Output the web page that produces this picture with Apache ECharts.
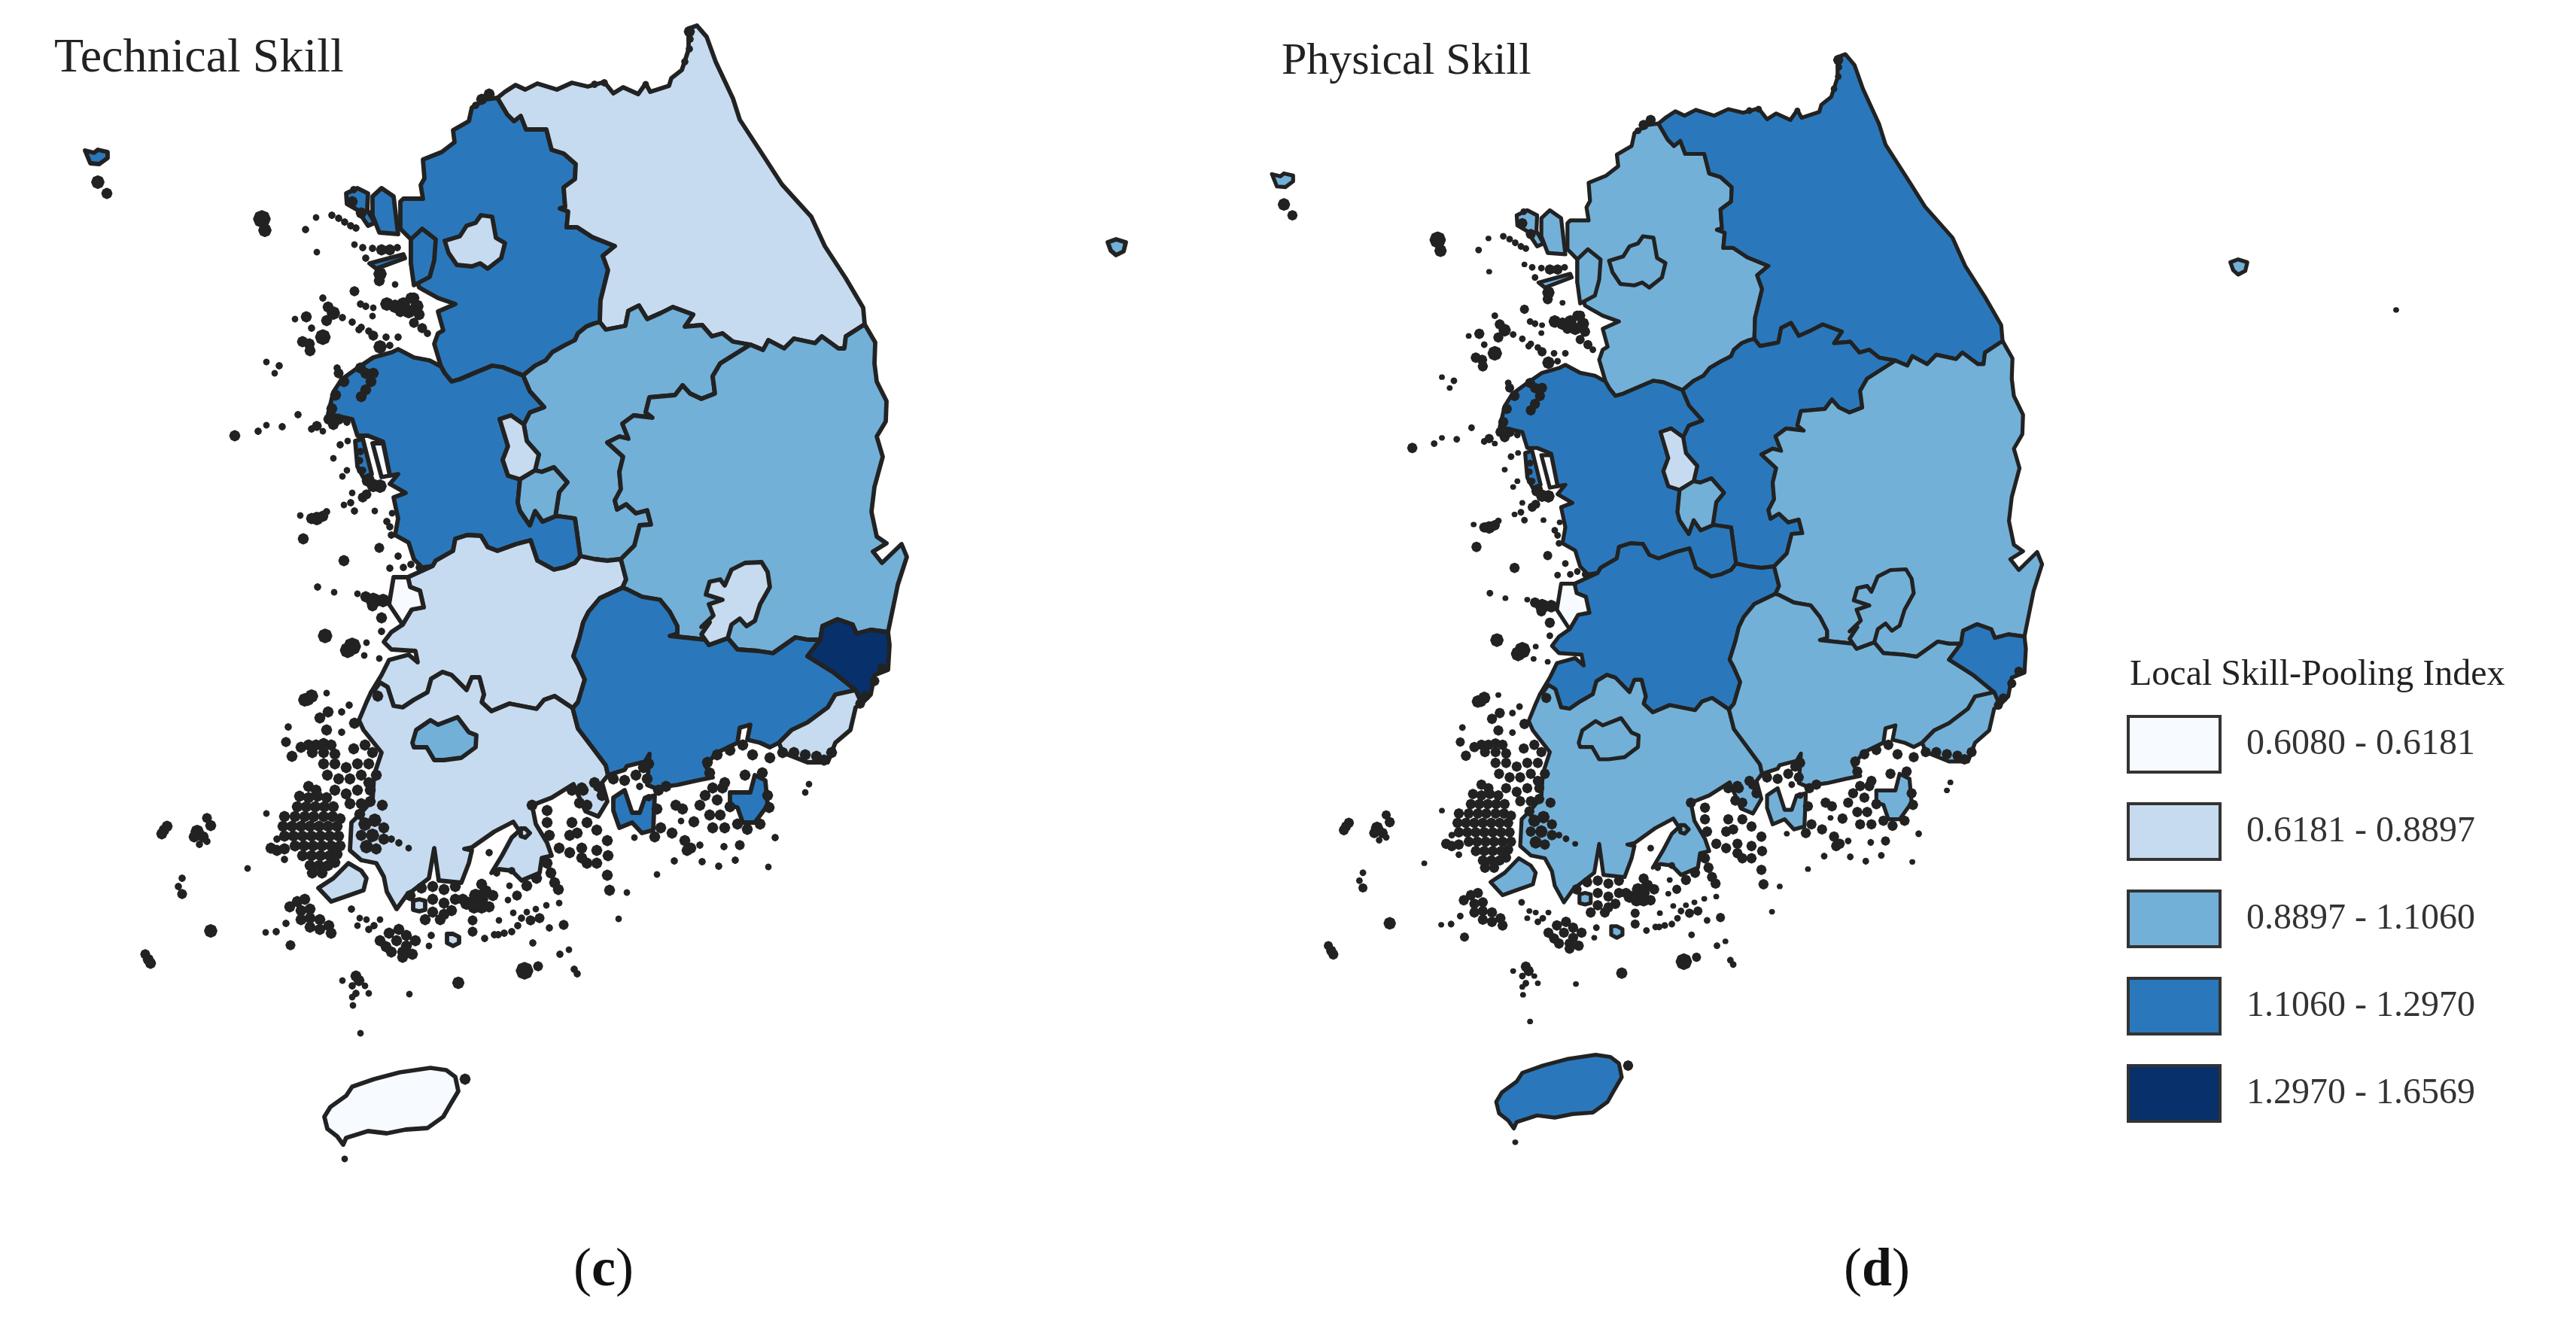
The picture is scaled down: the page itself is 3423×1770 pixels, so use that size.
<!DOCTYPE html>
<html><head><meta charset="utf-8">
<style>html,body{margin:0;padding:0;background:#fff}#c{width:3423px;height:1770px}</style>
<script src="https://cdn.jsdelivr.net/npm/echarts@6/dist/echarts.min.js"></script>
</head><body><div id="c"></div>
<script>
// ---------- values ----------
const regionNames = ['Gyeonggi','Gangwon','Chungbuk','Chungnam','Jeonbuk','Jeonnam','Gyeongbuk','Gyeongnam','Seoul','Incheon','Sejong','Daejeon','Daegu','Gwangju','Ulsan','Busan','Jeju','Saemangeum','Cheonsu'];
const technicalValues = [1.21,0.78,1.02,1.20,0.80,0.75,0.98,1.18,0.85,1.15,0.70,1.00,0.82,1.05,1.50,0.86,0.61,0.61,0.61];
const physicalValues  = [0.98,1.20,1.22,1.18,1.15,1.00,1.05,1.02,0.92,0.95,0.80,0.97,0.93,0.95,1.25,0.96,1.13,0.61,0.61];
const classBreaks = [0.6080,0.6181,0.8897,1.1060,1.2970,1.6569];
const classLabels = ['0.6080 - 0.6181','0.6181 - 0.8897','0.8897 - 1.1060','1.1060 - 1.2970','1.2970 - 1.6569'];
const classColors = ['#f7fbff','#c6dbef','#72b0d8','#2a78bb','#08306b'];

// ---------- outline data (traced map units, converted to lon/lat below) ----------
const coastNorthEast = [[661,130],[671,122],[685,113],[698,119],[714,111],[740,119],[760,110],[781,115],[803,109],[815,124],[828,116],[848,125],[858,111],[864,122],[889,114],[892,104],[906,93],[915,66],[915,38],[926,34],[939,49],[951,82],[974,131],[983,159],[1017,211],[1039,245],[1078,288],[1096,327],[1124,370],[1147,409],[1149,431]];
const arcGwGg = [[661,130],[674,152],[683,161],[692,154],[699,172],[726,172],[733,199],[749,204],[765,218],[764,238],[749,249],[751,275],[744,277],[755,281],[753,302],[767,302],[787,315],[817,327],[801,340],[808,359],[798,399],[797,428]];
const arcGwCb = [[797,428],[805,438],[831,433],[835,413],[849,406],[860,424],[878,416],[894,408],[921,418],[910,434],[933,432],[946,447],[960,443],[974,454],[997,458]];
const arcGwGb = [[997,458],[1014,465],[1021,452],[1042,463],[1055,450],[1083,456],[1092,447],[1114,463],[1122,463],[1124,447],[1149,431]];
const arcGgCb = [[797,428],[789,430],[779,434],[768,443],[764,452],[750,459],[734,468],[725,479],[711,486],[695,499]];
const arcGgCn = [[695,499],[668,488],[654,486],[632,495],[611,504],[600,507],[591,496],[586,487]];
const ggWest = [[586,487],[577,457],[582,443],[589,439],[582,414],[605,404],[582,396],[564,386],[557,382],[546,350],[546,318],[532,304],[532,268],[536,264],[562,264],[559,246],[564,237],[562,212],[587,202],[604,189],[602,173],[623,161],[627,143],[645,132],[661,130]];
const cnCoast = [[586,487],[571,479],[550,475],[529,464],[521,468],[496,475],[475,489],[454,504],[443,521],[436,550],[468,557],[475,579],[489,579],[509,587],[518,632],[529,630],[518,643],[539,655],[523,661],[529,689],[525,711],[543,721],[550,743],[561,754],[575,752]];
const arcCnJb = [[575,752],[579,745],[602,732],[605,716],[621,711],[639,712],[648,727],[661,732],[686,723],[705,718],[714,745],[736,757],[750,754],[764,748],[771,739]];
const cnEastSejongDaejeon = [[695,499],[704,520],[723,541],[704,548],[696,564],[679,552],[664,557],[675,593],[668,611],[675,632],[691,637],[688,668],[691,679],[704,698],[711,679],[721,693],[738,686],[743,686],[764,689],[771,739]];
const cbWest = [[771,739],[764,689],[743,686],[738,686],[743,654],[754,641],[736,621],[720,627],[711,625],[716,604],[700,586],[696,564],[704,548],[723,541],[704,520],[695,499]];
const arcCbGb = [[997,458],[957,483],[947,500],[950,523],[932,530],[917,523],[907,512],[897,525],[863,528],[858,548],[867,555],[842,552],[827,563],[835,583],[823,580],[807,588],[828,607],[823,627],[825,650],[817,665],[820,677],[832,670],[845,682],[860,678],[865,697],[850,698],[843,725],[825,743]];
const arcCbJb = [[771,739],[790,743],[807,745],[825,743]];
const arcGbJb = [[825,743],[832,770],[827,781]];
const arcJbGn = [[827,781],[797,795],[782,813],[775,827],[770,847],[762,872],[768,883],[777,903],[768,933],[761,941]];
const arcJbJn = [[761,941],[737,925],[723,930],[713,942],[677,935],[653,945],[640,933],[643,923],[637,900],[627,900],[620,917],[600,897],[588,893],[573,902],[568,920],[550,930],[535,940],[523,938],[515,913],[505,907],[497,918],[493,920]];
const jbCoast = [[493,920],[507,897],[517,877],[543,870],[555,880],[552,865],[520,863],[510,853],[520,840],[535,830],[547,810],[563,807],[558,785],[545,780],[542,767],[575,752]];
const gbCoast = [[1149,431],[1163,455],[1162,483],[1165,507],[1178,533],[1177,560],[1165,580],[1173,607],[1162,647],[1158,680],[1165,713],[1178,722],[1160,733],[1172,748],[1198,723],[1205,740],[1193,777],[1180,840]];
const arcGbUs = [[1180,840],[1157,837],[1138,842],[1133,830],[1113,823],[1093,832],[1090,850]];
const arcGbGn = [[1090,850],[1073,850],[1057,847],[1027,868],[1007,865],[980,863],[967,848],[942,857],[937,850],[890,845],[900,842],[900,832],[890,813],[877,797],[853,793],[833,783],[827,781]];
const gnSouth = [[1090,850],[1073,872],[1107,893],[1137,917],[1110,923],[1100,940],[1073,960],[1052,970],[1035,987],[1023,993],[1010,987],[993,983],[997,963],[983,967],[980,987],[953,1000],[937,1017],[947,1033],[927,1037],[900,1043],[870,1047],[860,1043],[863,1002],[857,1012],[833,1018],[830,1023],[808,1030],[805,1017],[787,993],[768,968],[761,941]];
const jnSouth = [[761,941],[768,968],[787,993],[805,1017],[808,1030],[800,1040],[807,1065],[795,1085],[778,1078],[762,1042],[733,1060],[707,1070],[712,1095],[727,1120],[733,1137],[720,1140],[717,1160],[693,1170],[680,1157],[663,1155],[653,1160],[667,1137],[680,1113],[690,1104],[682,1092],[657,1105],[627,1126],[617,1128],[627,1130],[623,1147],[613,1173],[583,1170],[577,1127],[570,1167],[557,1177],[540,1190],[527,1208],[514,1185],[510,1165],[500,1147],[480,1143],[465,1130],[467,1093],[480,1080],[495,1063],[497,1030],[507,1000],[483,970],[477,957],[487,933],[493,920]];
const seoulRing = [[591,320],[611,314],[620,300],[632,296],[639,286],[654,288],[659,316],[671,323],[666,343],[648,357],[638,350],[627,354],[607,352],[596,336]];
const sejongRing = [[696,564],[700,586],[716,604],[711,625],[691,637],[675,632],[668,611],[675,593],[664,557],[679,552]];
const daejeonRing = [[711,625],[720,627],[736,621],[754,641],[743,654],[738,686],[721,693],[711,679],[704,698],[691,679],[688,668],[691,637]];
const daeguRing = [[932,843],[943,827],[932,833],[948,818],[942,803],[960,797],[938,790],[943,773],[957,770],[963,778],[972,757],[990,748],[1012,747],[1020,760],[1023,780],[1010,803],[1003,825],[992,832],[983,822],[972,830],[967,848],[942,857],[937,850]];
const gwangjuRing = [[548,987],[553,970],[572,957],[582,963],[608,953],[623,973],[633,977],[632,993],[613,1007],[590,1010],[577,1010],[567,993],[550,993]];
const ulsanRing = [[1090,850],[1093,832],[1113,823],[1133,830],[1138,842],[1157,837],[1180,840],[1182,857],[1180,890],[1162,897],[1157,923],[1145,935],[1137,917],[1107,893],[1073,872]];
const busanRing = [[1137,917],[1145,935],[1137,940],[1130,970],[1110,987],[1100,1013],[1073,1013],[1040,1000],[1035,987],[1052,970],[1073,960],[1100,940],[1110,923]];
const jejuRing = [[431,1484],[439,1471],[460,1456],[468,1444],[497,1434],[531,1425],[572,1419],[593,1422],[605,1431],[609,1450],[597,1470],[589,1484],[568,1499],[539,1501],[514,1506],[489,1503],[460,1512],[456,1521],[448,1510],[435,1500]];
const saemangeumRing = [[523,767],[542,767],[545,780],[558,785],[563,807],[547,810],[535,830],[517,803]];
const cheonsuRing = [[495,589],[509,589],[518,632],[507,634]];
const ganghwaRing = [[495,261],[507,250],[523,261],[529,311],[504,309],[495,286]];
const gyodongRing = [[460,257],[475,250],[489,257],[488,279],[498,296],[489,300],[475,279],[461,271]];
const yeongjongRing = [[491,350],[536,338],[538,343],[500,357]];
const incheonMainRing = [[546,318],[561,304],[579,318],[577,346],[571,368],[550,379],[546,350]];
const baengnyeongRing = [[113,200],[125,203],[130,199],[143,202],[143,210],[132,218],[120,217]];
const anmyeonRing = [[472,586],[482,583],[494,630],[486,640],[475,620]];
const geojeRing = [[970,1053],[997,1053],[1003,1030],[1017,1037],[1020,1070],[1003,1093],[987,1093],[980,1073],[970,1070]];
const namhaeRing = [[815,1060],[830,1050],[840,1080],[850,1080],[857,1060],[870,1057],[868,1103],[853,1107],[840,1093],[823,1100],[815,1077]];
const jindoRing = [[480,1157],[487,1167],[483,1183],[463,1190],[440,1198],[423,1180],[443,1167],[463,1147]];
const ulleungRing = [[1472,322],[1483,318],[1496,322],[1493,334],[1483,339],[1476,333]];
const wandoRing = [[549,1197],[557,1195],[565,1197],[565,1209],[557,1211],[549,1209]];
const soanRing = [[594,1241],[602,1241],[610,1245],[610,1253],[602,1257],[594,1253]];
const sorokRing = [[692,1101],[698,1101],[704,1107],[698,1113],[692,1111]];

// islets drawn as solid blobs: [x, y, radius]
const northIslets = [[916,42,3],[917,52,2],[916,65,2],[910,82,2],[803,110,2],[790,112,2],[858,112,1.5]];
const incheonIslets = [[130,242,4],[142,257,3],[348,291,5.9],[352,306,4],[420,289,1.5],[406,305,2],[421,335,1.5],[525,378,1.5],[471,387,2.5],[441,286,2],[450,290,2],[458,295,2],[466,300,2],[473,303,2],[471,325,1.5],[482,329,2],[495,330,2],[507,332,3],[518,332,3],[528,329,2],[486,343,2],[505,364,4],[504,373,3],[429,396,2],[436,408,3],[443,416,4],[455,422,2],[468,428,2],[480,435,2],[490,440,2],[477,438,2],[407,421,3],[392,424,1.5],[434,426,3],[414,436,2],[429,448,5],[402,454,3],[411,457,3],[412,466,3],[479,404,2],[486,407,2],[496,409,1.5],[495,420,1.5],[514,404,4],[525,407,4],[536,404,4],[546,396,3],[554,407,4],[543,414,4],[532,414,3],[557,418,3],[550,396,3],[561,436,2.5],[550,429,2.5],[568,443,2],[496,446,2.5],[513,448,2],[529,448,2],[505,461,4],[518,459,2],[354,481,1.5],[371,486,2],[365,496,1.5],[448,489,2],[450,496,2.5],[468,268,3],[480,283,3],[470,252,2],[650,125,3],[640,132,3],[632,140,2]];
const chungnamIslets = [[479,489,3],[486,496,3],[496,496,3],[493,507,3],[486,518,3],[480,527,3],[457,507,3],[446,525,3],[441,543,3],[437,557,3],[450,557,3],[461,561,2],[443,564,3],[421,566,2.5],[414,570,2],[429,573,1.5],[396,551,2],[375,567,2],[354,565,1.5],[343,573,2],[312,579,3],[462,586,1.5],[452,591,2],[443,609,1.5],[461,625,1.5],[455,633,1.5],[479,625,2],[488,639,3],[496,645,4],[505,646,4],[482,625,2],[487,657,2.5],[482,661,2.5],[468,655,1.5],[466,668,2],[471,679,2],[457,671,1.5],[399,685,1.5],[421,689,4],[414,689,3],[429,686,3],[434,680,2],[403,716,3],[498,679,1.5],[514,693,2],[518,700,2],[521,682,1.5],[520,711,2],[479,600,2],[478,612,2],[490,636,3]];
const jeonbukIslets = [[504,728,2.5],[529,739,2],[457,745,3],[518,755,2],[546,750,2],[536,754,2],[557,754,2],[422,780,2],[444,787,1.5],[475,789,1.5],[486,793,3],[496,798,5],[509,798,4],[495,805,3],[507,821,3],[507,839,2],[432,845,4.5],[468,859,5.9],[462,864,5],[487,854,1.5],[484,871,1.5],[504,875,1.5]];
const jeonnamIslets = [[409,929,4],[414,925,4],[405,930,4],[434,921,1.5],[436,946,3],[425,954,3],[454,946,2],[464,937,2],[383,966,2],[434,970,3],[454,973,2],[380,986,2.5],[388,1005,3],[502,925,3],[471,961,3],
[400,993,3],[410,990,3],[420,990,3],[430,988,3],[440,990,3],[415,1000,3],[430,1000,3],[445,1002,3],[470,995,3],[485,990,3],[495,1000,3],[430,1015,3],[445,1015,3],[460,1020,3],[475,1015,3],[490,1015,3],[435,1030,3],[450,1035,3],[465,1035,3],[480,1030,3],[490,1040,3],[445,1050,3],[460,1055,3],[475,1050,3],[492,1050,3],[465,1068,3],[480,1068,3],[492,1065,3],[478,1082,3],
[410,1045,3],[420,1050,3],[398,1058,3],[410,1060,3],[422,1058,3],[434,1060,3],[395,1072,3],[407,1072,3],[419,1072,3],[431,1072,3],[443,1072,3],[378,1085,3],[392,1085,3],[405,1085,3],[417,1085,3],[430,1085,3],[442,1085,3],[452,1088,3],[376,1098,3],[388,1098,3],[400,1098,3],[412,1098,3],[424,1098,3],[436,1098,3],[448,1098,3],[378,1111,3],[390,1111,3],[402,1111,3],[414,1111,3],[426,1111,3],[438,1111,3],[450,1111,3],[392,1124,3],[404,1124,3],[416,1124,3],[428,1124,3],[440,1124,3],[452,1124,3],[402,1137,3],[414,1137,3],[426,1137,3],[438,1137,3],[448,1135,3],[412,1150,3],[424,1150,3],[436,1150,3],[445,1146,3],[415,1160,3],[428,1160,3],
[385,1205,3],[395,1198,3],[405,1195,3],[400,1210,3],[412,1208,3],[400,1222,3],[412,1220,3],[425,1222,3],[412,1232,3],[425,1235,3],[437,1230,3],[440,1240,3],[380,1227,2],[367,1238,2],[353,1239,1.5],[386,1256,2.5],[360,1127,3],[368,1130,3],[378,1128,3],[368,1115,2],[378,1142,2],[354,1081,1.5],[329,1154,1.5],
[222,1098,3],[218,1103,3],[215,1108,3],[275,1087,2.5],[280,1097,3],[262,1105,4],[270,1112,3],[258,1112,3],[275,1118,2],[265,1122,2],[242,1167,2],[237,1178,2],[242,1188,2.5],[280,1237,4],[193,1268,2.5],[197,1275,3],[200,1280,3],
[467,1208,2],[478,1220,1.5],[487,1222,1.5],[475,1230,1.5],[505,1222,1.5],[497,1230,2],[490,1235,2],[505,1250,3],[517,1240,3],[530,1235,3],[540,1243,3],[513,1258,3],[527,1250,3],[540,1257,3],[552,1250,3],[520,1265,3],[535,1265,3],[548,1268,3],[535,1272,3],[573,1243,2],[570,1257,1.5],[628,1238,2.5],[628,1223,2.5],[644,1247,2],[657,1242,2],
[473,1297,3],[468,1310,2],[477,1303,3],[485,1310,1.5],[473,1320,2],[490,1320,1.5],[455,1303,1.5],[468,1325,1.5],[469,1336,1.5],[479,1373,1.5],[544,1321,1.5],
[545,1190,3],[560,1180,3],[575,1178,3],[590,1182,3],[605,1178,3],[575,1195,3],[590,1200,3],[605,1195,3],[575,1212,3],[590,1215,3],[600,1210,3],[615,1195,3],[585,1222,3],[565,1222,3],
[620,1200,4],[632,1190,4],[640,1175,3],[645,1185,4],[630,1205,4],[640,1205,4],[650,1205,3],[640,1195,4],[655,1190,3],
[500,1030,3],[508,1070,3],[485,1095,4],[498,1090,4],[510,1100,3],[480,1110,3],[495,1110,4],[510,1115,3],[487,1125,4],[500,1128,3],[520,1115,2],[530,1120,2],[543,1127,1.5],
[662,1242,2],[670,1240,2],[680,1238,2],[688,1230,2],[693,1220,2],[663,1223,1.5],[682,1213,1.5],[700,1212,1.5],[712,1208,1.5],[726,1203,1.5],[743,1200,1.5],[705,1223,2.5],[717,1220,2.5],[730,1233,2],[749,1229,2.5],[708,1253,2],[744,1268,2],[756,1262,1.5],[763,1288,2],[767,1294,2],[697,1290,5.9],[715,1284,2.5],[609,1306,3.5],[675,1196,1.5],
[700,1177,3],[713,1167,3],[727,1147,3],[732,1160,3],[737,1173,3],[742,1182,3],[687,1190,2.5],[677,1177,1.5],[660,1160,2],[680,1157,2],[650,1133,2],
[707,1070,3],[727,1077,3],[727,1093,3],[730,1110,3],[743,1127,3],[757,1133,3],[773,1140,3],[793,1147,3],[807,1163,3],[810,1183,3],[760,1093,3],[757,1110,3],[767,1107,3],[780,1093,3],[793,1103,3],[807,1117,3],[808,1137,3],[773,1127,3],[793,1130,3],[780,1147,3],[760,1050,2.5],[770,1067,3],[780,1070,3],[790,1040,3],[800,1057,3],[773,1047,3],[833,1186,1.5],[822,1221,1.5]];
const gyeongnamIslets = [[873,1162,1.5],[843,1113,1.5],[896,1144,2],[933,1145,2],[955,1151,2],[977,1143,2],[1021,1152,1.5],[962,1125,2],[983,1123,2.5],[1030,1113,2],[922,1092,3],[905,1091,1.5],[898,1070,3],[907,1075,3],[893,1107,3],[910,1117,3],[918,1127,3],[930,1123,2],[913,1130,3],[1075,1042,1.5],[1070,1053,1.5],
[940,1013,3],[953,1003,3],[970,997,3],[987,990,3],[1000,1003,3],[1023,1007,3],[930,1070,3],[937,1057,3],[947,1047,3],[960,1047,3],[953,1063,3],[943,1083,3],[957,1083,3],[970,1072,3],[947,1100,3],[963,1100,3],[980,1095,3],[993,1102,3],[1010,1095,3],[1022,1073,3],[1020,1057,3],[1013,1027,3],[990,1030,3],[963,1040,3],[943,1027,3],
[1040,1000,3],[1055,1000,3],[1070,1003,3],[1085,1005,3],[1095,1010,3],[1105,1000,3],
[775,1050,3],[760,1050,3],[795,1045,3],[815,1035,3],[830,1037,3],[845,1030,3],[855,1020,3],[860,1035,3],[875,1050,3],[885,1045,3],[862,1060,2],[873,1075,3],[878,1100,3],[870,1112,3],[850,1045,2],[862,1015,3],
[1172,888,2.5],[1162,905,2.5],[1150,925,2.5],[1143,935,2.5]];
const jejuIslets = [[618,1434,3],[458,1540,1.5]];
const dokdoIslets = [[1707,388,1.5]];

// ---------- layout ----------
const TRACE_BOX = {x0:100,y0:0,x1:1500,y1:1600};
const PANELS = [
  {map:'koreaLeft', isletMap:'isletsLeft', left:100, top:0, width:1400, height:1600, lineWidth:5.8, values:technicalValues},
  {map:'koreaRight', isletMap:'isletsRight', left:1678, top:39.4, width:1312, height:1536, lineWidth:5.2, values:physicalValues}
];
const LEGEND = {left:2828, top:952, w:122, h:74, gap:42};
const FONT = '"Liberation Serif","Times New Roman",serif';
const LINE = '#222';

// ---------- helpers ----------
const toLonLat = p => [124.7+(p[0]-112)/222, 38.61-(p[1]-34)/276];
const rev = a => a.slice().reverse();
const closeRing = r => { const o = r.map(toLonLat); o.push(o[0]); return o; };
const islet = ([x,y,r]) => {
  const R = r<=2 ? r : r*1.5, out=[];
  for(let i=0;i<8;i++){const t=i*Math.PI/4; out.push([x+R*Math.cos(t),y+R*Math.sin(t)]);}
  return out;
};
const join = (...arcs) => { const out=[]; arcs.forEach(a=>a.forEach(p=>{const l=out[out.length-1]; if(!l||l[0]!==p[0]||l[1]!==p[1]) out.push(p);})); return out; };
const feature = (name, rings) => ({type:'Feature',properties:{name},geometry:{type:'MultiPolygon',coordinates:rings.map(r=>[closeRing(r)])}});

const gyeongbukRing = join(gbCoast,arcGbUs,arcGbGn,rev(arcGbJb),rev(arcCbGb),arcGwGb);
const regionGeo = {type:'FeatureCollection',features:[
  feature('Gyeonggi',[join(arcGwGg,arcGgCb,arcGgCn,ggWest)]),
  feature('Gangwon',[join(coastNorthEast,rev(arcGwGb),rev(arcGwCb),rev(arcGwGg))]),
  feature('Chungbuk',[join(arcGwCb,arcCbGb,rev(arcCbJb),cbWest,rev(arcGgCb))]),
  feature('Chungnam',[join(cnEastSejongDaejeon,rev(arcCnJb),rev(cnCoast),rev(arcGgCn)),anmyeonRing]),
  feature('Jeonbuk',[join(arcCnJb,arcCbJb,arcGbJb,arcJbGn,arcJbJn,jbCoast)]),
  feature('Jeonnam',[join(rev(arcJbJn),jnSouth),jindoRing,wandoRing,soanRing,sorokRing]),
  feature('Gyeongbuk',[gyeongbukRing,ulleungRing]),
  feature('Gyeongnam',[join(gnSouth,rev(arcJbGn),rev(arcGbGn)),geojeRing,namhaeRing]),
  feature('Seoul',[seoulRing]),
  feature('Incheon',[incheonMainRing,ganghwaRing,gyodongRing,yeongjongRing,baengnyeongRing]),
  feature('Sejong',[sejongRing]),
  feature('Daejeon',[daejeonRing]),
  feature('Daegu',[daeguRing]),
  feature('Gwangju',[gwangjuRing]),
  feature('Ulsan',[ulsanRing]),
  feature('Busan',[busanRing]),
  feature('Jeju',[jejuRing]),
  feature('Saemangeum',[saemangeumRing]),
  feature('Cheonsu',[cheonsuRing])
]};
const sharedIslets = [...northIslets,...incheonIslets,...chungnamIslets,...jeonbukIslets,...jeonnamIslets,...gyeongnamIslets,...jejuIslets];
const isletGeo = list => ({type:'FeatureCollection',features:[feature('Islets',list.map(islet))]});
echarts.registerMap('koreaLeft',regionGeo);
echarts.registerMap('koreaRight',regionGeo);
echarts.registerMap('isletsLeft',isletGeo(sharedIslets));
echarts.registerMap('isletsRight',isletGeo([...sharedIslets,...dokdoIslets]));

const bounding = [toLonLat([TRACE_BOX.x0,TRACE_BOX.y0]),toLonLat([TRACE_BOX.x1,TRACE_BOX.y1])];
const chart = echarts.init(document.getElementById('c'),null,{renderer:'canvas',width:3423,height:1770});
const panelLabel = (letter,left) => ({text:'{p|(}{b|'+letter+'}{p|)}',left,top:1648,textStyle:{fontWeight:'normal',rich:{
  p:{fontFamily:FONT,fontSize:72,fontWeight:'normal',color:'#111'},b:{fontFamily:FONT,fontSize:72,fontWeight:'bold',color:'#111'}}}});
const mapBase = p => ({type:'map',left:p.left,top:p.top,width:p.width,height:p.height,boundingCoords:bounding,
  roam:false,silent:true,label:{show:false},emphasis:{disabled:true},select:{disabled:true},selectedMode:false});

chart.setOption({
  animation:false,backgroundColor:'#fff',
  title:[
    {text:'Technical Skill',left:72,top:46,padding:0,textStyle:{fontFamily:FONT,fontSize:64,fontWeight:'normal',color:'#222'}},
    {text:'Physical Skill',left:1703,top:52,padding:0,textStyle:{fontFamily:FONT,fontSize:60,fontWeight:'normal',color:'#222'}},
    {text:'Local Skill-Pooling Index',left:2830,top:873,padding:0,textStyle:{fontFamily:FONT,fontSize:48,fontWeight:'normal',color:'#222'}},
    panelLabel('c',757),panelLabel('d',2445)
  ],
  visualMap:{
    type:'piecewise',seriesIndex:[0,1],inverse:true,selectedMode:false,hoverLink:false,align:'left',
    left:LEGEND.left,top:LEGEND.top,padding:0,itemWidth:LEGEND.w,itemHeight:LEGEND.h,itemGap:LEGEND.gap,textGap:35,itemSymbol:'rect',
    textStyle:{fontFamily:FONT,fontSize:48,color:'#333'},
    pieces:classLabels.map((label,i)=>({min:classBreaks[i],max:classBreaks[i+1],label,color:classColors[i]}))
  },
  graphic:classLabels.map((_,i)=>({type:'rect',silent:true,z:100,
    shape:{x:LEGEND.left,y:LEGEND.top+i*(LEGEND.h+LEGEND.gap),width:LEGEND.w,height:LEGEND.h},
    style:{fill:'none',stroke:'#333',lineWidth:4}})),
  series:[
    ...PANELS.map(p=>({...mapBase(p),map:p.map,
      itemStyle:{borderColor:LINE,borderWidth:p.lineWidth,borderJoin:'round'},
      data:regionNames.map((name,i)=>({name,value:p.values[i]}))})),
    ...PANELS.map(p=>({...mapBase(p),map:p.isletMap,
      itemStyle:{areaColor:LINE,borderColor:LINE,borderWidth:p.lineWidth,borderJoin:'round'}}))
  ]
});
</script></body></html>
